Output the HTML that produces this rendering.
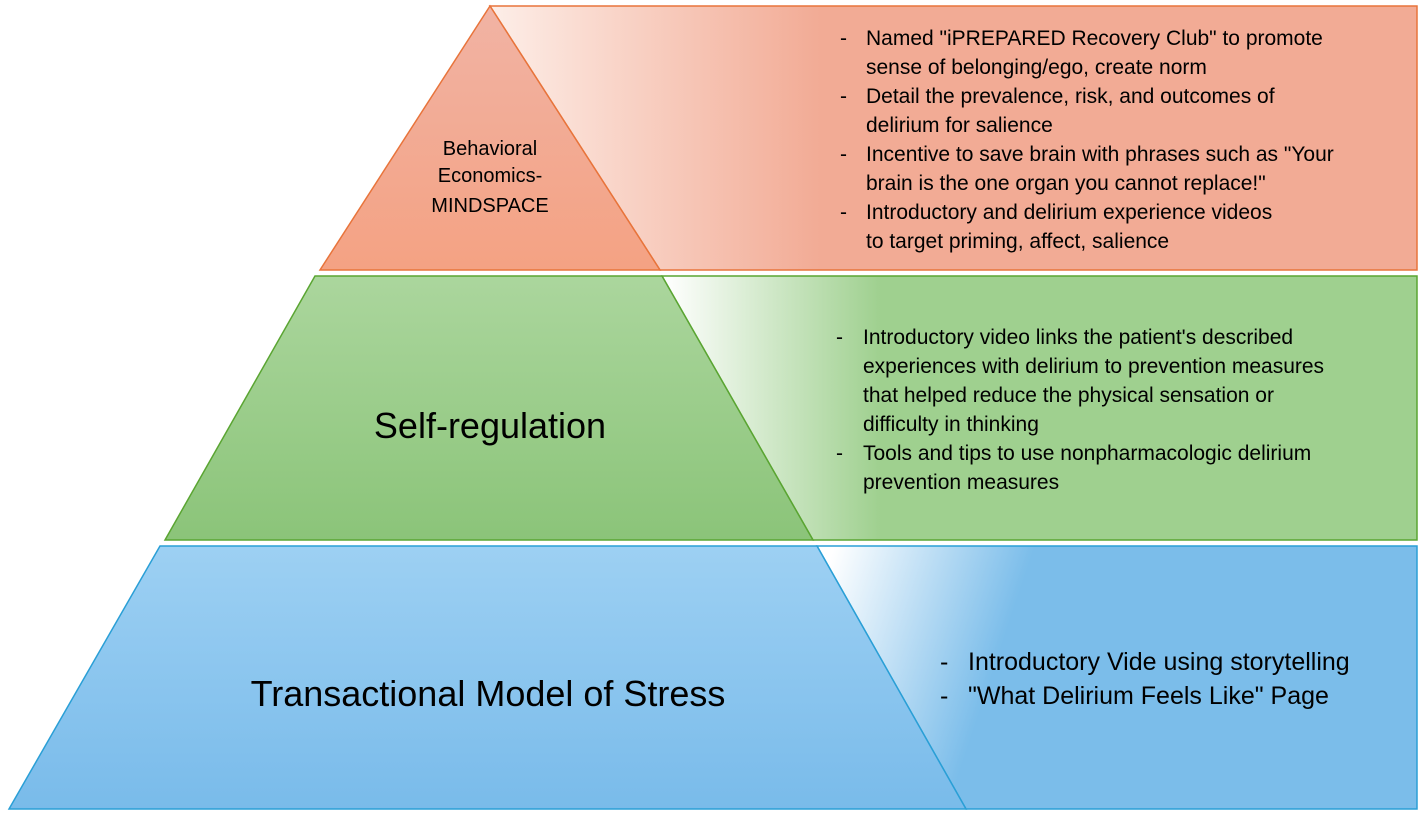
<!DOCTYPE html>
<html><head><meta charset="utf-8"><style>
html,body{margin:0;padding:0;background:#fff;}
svg{display:block;font-family:"Liberation Sans",Arial,sans-serif;}
</style></head><body>
<svg width="1422" height="816" viewBox="0 0 1422 816" xmlns="http://www.w3.org/2000/svg">
<defs>
<linearGradient id="pt" x1="490" y1="0" x2="820" y2="0" gradientUnits="userSpaceOnUse">
<stop offset="0" stop-color="#fdeee8"/><stop offset="1" stop-color="#f2ab95"/></linearGradient>
<linearGradient id="tt" x1="0" y1="0" x2="0" y2="1">
<stop offset="0" stop-color="#f1b3a4"/><stop offset="1" stop-color="#f4a283"/></linearGradient>
<linearGradient id="pg" x1="665" y1="0" x2="880" y2="0" gradientUnits="userSpaceOnUse">
<stop offset="0" stop-color="#ffffff"/><stop offset="1" stop-color="#9fd08f"/></linearGradient>
<linearGradient id="tg" x1="0" y1="0" x2="0" y2="1">
<stop offset="0" stop-color="#abd69d"/><stop offset="1" stop-color="#8bc479"/></linearGradient>
<linearGradient id="pb" x1="830" y1="560" x2="1010" y2="620" gradientUnits="userSpaceOnUse">
<stop offset="0" stop-color="#ffffff"/><stop offset="1" stop-color="#7bbdea"/></linearGradient>
<linearGradient id="tb" x1="0" y1="0" x2="0" y2="1">
<stop offset="0" stop-color="#9dd0f3"/><stop offset="1" stop-color="#79bbea"/></linearGradient>
</defs>
<!-- top -->
<polygon points="490,6 1417,6 1417,270 660,270" fill="url(#pt)" stroke="#e8743b" stroke-width="1.5"/>
<polygon points="490,6 660,270 320,270" fill="url(#tt)" stroke="#e8743b" stroke-width="1.5"/>
<!-- middle -->
<polygon points="662,276 1417,276 1417,540 813,540" fill="url(#pg)" stroke="#5aa532" stroke-width="1.5"/>
<polygon points="315,276 662,276 813,540 165,540" fill="url(#tg)" stroke="#5aa532" stroke-width="1.5"/>
<!-- bottom -->
<polygon points="817,546 1417,546 1417,809 966,809" fill="url(#pb)" stroke="#2a9fd6" stroke-width="1.5"/>
<polygon points="160,546 817,546 966,809 9,809" fill="url(#tb)" stroke="#2a9fd6" stroke-width="1.5"/>

<g font-size="20" fill="#000" text-anchor="middle">
<text x="490" y="155">Behavioral</text>
<text x="490" y="182">Economics-</text>
<text x="490" y="212">MINDSPACE</text>
</g>
<text x="490" y="438" font-size="36" text-anchor="middle">Self-regulation</text>
<text x="488" y="706" font-size="36" text-anchor="middle">Transactional Model of Stress</text>

<g font-size="21" fill="#000">
<text x="840" y="45">-</text><text x="866" y="45">Named "iPREPARED Recovery Club" to promote</text>
<text x="866" y="74">sense of belonging/ego, create norm</text>
<text x="840" y="103">-</text><text x="866" y="103">Detail the prevalence, risk, and outcomes of</text>
<text x="866" y="132">delirium for salience</text>
<text x="840" y="161">-</text><text x="866" y="161">Incentive to save brain with phrases such as "Your</text>
<text x="866" y="190">brain is the one organ you cannot replace!"</text>
<text x="840" y="219">-</text><text x="866" y="219">Introductory and delirium experience videos</text>
<text x="866" y="248">to target priming, affect, salience</text>

<text x="836" y="344">-</text><text x="863" y="344">Introductory video links the patient's described</text>
<text x="863" y="373">experiences with delirium to prevention measures</text>
<text x="863" y="402">that helped reduce the physical sensation or</text>
<text x="863" y="431">difficulty in thinking</text>
<text x="836" y="460">-</text><text x="863" y="460">Tools and tips to use nonpharmacologic delirium</text>
<text x="863" y="489">prevention measures</text>
</g>
<g font-size="25" fill="#000">
<text x="940" y="670">-</text><text x="968" y="670">Introductory Vide using storytelling</text>
<text x="940" y="704">-</text><text x="968" y="704">"What Delirium Feels Like" Page</text>
</g>
</svg>
</body></html>
